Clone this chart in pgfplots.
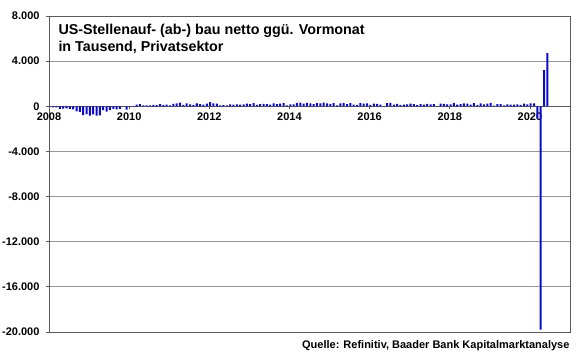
\documentclass[border=0pt]{standalone}
\usepackage{fontspec}
\setmainfont{Liberation Sans}
\usepackage{pgfplots}
\pgfplotsset{compat=1.18}
\usepackage{pgfplotstable}
\definecolor{barblue}{RGB}{10,10,200}
\definecolor{axgray}{RGB}{90,90,90}
\definecolor{gridgray}{RGB}{150,150,150}

% months since Jan 2008, net change (thousands)
\pgfplotstableread{
m v
0 -30
1 -100
2 -90
3 -220
4 -200
5 -190
6 -230
7 -270
8 -460
9 -490
10 -790
11 -690
12 -820
13 -720
14 -830
15 -800
16 -350
17 -480
18 -340
19 -230
20 -280
21 -230
22 0
23 -300
24 -20
25 -50
26 140
27 190
28 80
29 90
30 90
31 130
32 110
33 200
34 130
35 140
36 70
37 220
38 260
39 320
40 120
41 250
42 170
43 120
44 260
45 200
46 140
47 240
48 360
49 260
50 230
51 80
52 110
53 70
54 160
55 140
56 180
57 150
58 170
59 230
60 200
61 280
62 130
63 190
64 220
65 190
66 150
67 250
68 200
69 230
70 280
71 70
72 180
73 160
74 300
75 320
76 230
77 300
78 250
79 200
80 270
81 250
82 330
83 250
84 200
85 270
86 80
87 260
88 310
89 190
90 270
91 140
92 130
93 290
94 230
95 250
96 120
97 230
98 210
99 140
100 20
101 270
102 300
103 150
104 220
105 130
106 140
107 170
108 230
109 200
110 100
111 190
112 140
113 220
114 180
115 190
116 10
117 240
118 220
119 170
120 180
121 300
122 140
123 200
124 250
125 230
126 150
127 270
128 110
129 260
130 170
131 240
132 300
133 50
134 190
135 200
136 80
137 160
138 150
139 140
140 160
141 130
142 240
143 160
144 250
145 250
146 -1100
147 -19800
148 3200
149 4720
}\data

\begin{document}
\begin{tikzpicture}
\useasboundingbox (0,0) rectangle (580bp,359bp);
% frame, y axis, grid
\begin{axis}[
  at={(49bp,27bp)}, anchor=south west, scale only axis,
  width=521bp, height=316bp,
  xmin=2008, xmax=2021, ymin=-20000, ymax=8000,
  xtick=\empty,
  scaled y ticks=false,
  ytick={-20000,-16000,-12000,-8000,-4000,0,4000,8000},
  yticklabels={-20.000,-16.000,-12.000,-8.000,-4.000,0,4.000,8.000},
  ytick pos=left,
  ymajorgrids,
  grid style={gridgray, line width=0.8pt},
  axis line style={axgray, line width=0.8pt},
  tick align=outside, major tick length=3bp,
  y tick style={axgray, line width=0.8pt},
  yticklabel style={font=\fontsize{11bp}{13bp}\selectfont\bfseries, xshift=-3bp},
]
\end{axis}
% bars and x axis at zero
\begin{axis}[
  at={(49bp,27bp)}, anchor=south west, scale only axis,
  width=521bp, height=316bp,
  xmin=2008, xmax=2021, ymin=-20000, ymax=8000,
  axis y line=none, axis x line=middle,
  axis line style={-, axgray, line width=0.8pt},
  ybar, bar width=0.05,
  ytick=\empty, scaled y ticks=false, scaled x ticks=false,
  xtick={2008,2010,2012,2014,2016,2018,2020},
  xticklabels={2008,2010,2012,2014,2016,2018,2020},
  tick align=outside, major tick length=3bp,
  x tick style={axgray, line width=0.8pt},
  xticklabel style={font=\fontsize{11bp}{13bp}\selectfont\bfseries},
]
\addplot[fill=barblue, draw=none] table[x expr=2008+\thisrow{m}/12+0.02, y=v] {\data};
\end{axis}
\node[anchor=base west, font=\fontsize{14.3bp}{17bp}\selectfont\bfseries] at (55bp,324bp) {US-Stellenauf- (ab-) bau netto ggü. Vormonat};
\node[anchor=base west, font=\fontsize{14.3bp}{17bp}\selectfont\bfseries] at (55bp,307bp) {in Tausend, Privatsektor};
\node[anchor=base east, font=\fontsize{11bp}{13bp}\selectfont\bfseries] at (573bp,11bp) {Quelle: Refinitiv, Baader Bank Kapitalmarktanalyse};
\end{tikzpicture}
\end{document}
